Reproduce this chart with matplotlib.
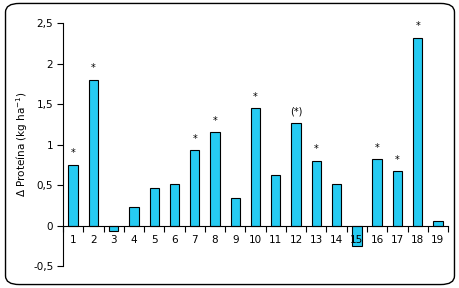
import numpy as np
import matplotlib
matplotlib.use("Agg")
import matplotlib.pyplot as plt
from matplotlib.patches import FancyBboxPatch
from matplotlib.ticker import FuncFormatter

# data
categories = list(range(1, 20))
values = [0.75, 1.80, -0.07, 0.23, 0.46, 0.51, 0.93, 1.15, 0.34, 1.45,
          0.62, 1.27, 0.80, 0.51, -0.25, 0.82, 0.67, 2.32, 0.06]
marks = ["*", "*", "", "", "", "", "*", "*", "", "*",
         "", "(*)", "*", "", "", "*", "*", "*", ""]

fig = plt.figure(figsize=(4.6, 2.88), dpi=100)
ax = fig.add_axes([0.137, 0.0764, 0.837, 0.8436])

# bars under the axis so the "15" label stays visible over bar 15
ax.bar(categories, values, width=0.46, color="#26CBF2", edgecolor="black",
       linewidth=0.8, zorder=1)

for x, v, m in zip(categories, values, marks):
    if m:
        ax.text(x, max(v, 0) + 0.08, m, ha="center", va="bottom", fontsize=7)

ax.set_xlim(0.5, 19.5)
ax.set_ylim(-0.5, 2.5)
ax.set_yticks(np.arange(-0.5, 2.51, 0.5))
ax.yaxis.set_major_formatter(FuncFormatter(
    lambda v, p: ("%g" % v).replace(".", ",")))
ax.tick_params(axis="y", direction="out", length=4, width=0.8, labelsize=7.5,
               pad=3)

ax.spines["top"].set_visible(False)
ax.spines["right"].set_visible(False)
ax.spines["bottom"].set_position(("data", 0))
ax.spines["left"].set_linewidth(0.8)
ax.spines["bottom"].set_linewidth(0.8)

ax.set_xticks(categories)
ax.set_xticklabels([str(c) for c in categories])
ax.set_xticks(np.arange(0.5, 19.6, 1), minor=True)
ax.tick_params(axis="x", which="major", length=0, labelsize=7.5, pad=7)
ax.tick_params(axis="x", which="minor", direction="out", length=4, width=0.8)

ax.set_ylabel("\u0394 Proteína (kg ha$^{-1}$)", fontsize=7.5, labelpad=2)

border = FancyBboxPatch((0.012, 0.012), 0.976, 0.976,
                        boxstyle="round,pad=0,rounding_size=0.03",
                        transform=fig.transFigure, fill=False,
                        edgecolor="black", linewidth=1.0)
fig.patches.append(border)

fig.savefig("out.png", dpi=100)
